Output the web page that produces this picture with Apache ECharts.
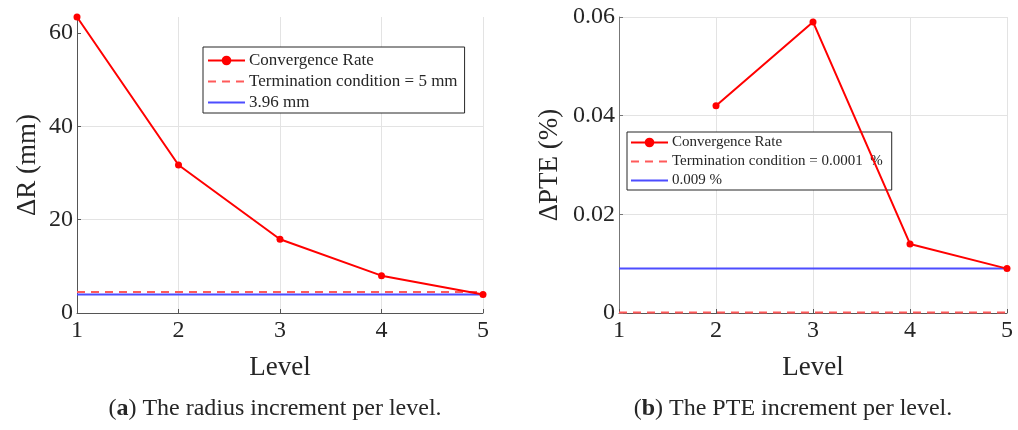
<!DOCTYPE html>
<html>
<head>
<meta charset="utf-8">
<script src="https://cdn.jsdelivr.net/npm/echarts@6/dist/echarts.min.js"></script>
<style>
  html, body { margin: 0; padding: 0; background: #fff; }
  #main { width: 1018px; height: 430px; }
</style>
</head>
<body>
<div id="main"></div>
<script>
// data
var levels = [1, 2, 3, 4, 5];
var radiusRate = [63.4, 31.7, 15.8, 8.0, 3.96];
var radiusTermination = 4.5;
var radiusFinal = 3.96;

var pteRate = [null, 0.042, 0.059, 0.014, 0.009];
var pteTermination = 0.0001;
var pteFinal = 0.009;

var radiusTicks = [0, 20, 40, 60];

var FONT = '"Liberation Serif", "Times New Roman", serif';
var TXT = '#262626';

function pairs(xs, ys) {
  var out = [];
  for (var i = 0; i < xs.length; i++) {
    if (ys[i] !== null) out.push([xs[i], ys[i]]);
  }
  return out;
}
function flat(v) {
  return [[levels[0], v], [levels[levels.length - 1], v]];
}
// legend entry with the line only, no marker
function lineOnly(name) {
  return { name: name, itemStyle: { opacity: 0 } };
}

function xAxis(idx) {
  return {
    type: 'value', gridIndex: idx, min: 1, max: 5, interval: 1,
    name: 'Level', nameLocation: 'middle', nameGap: 41,
    nameTextStyle: { fontFamily: FONT, fontSize: 27, color: TXT },
    axisLine: { lineStyle: { color: '#555', width: 1 } },
    axisTick: { inside: true, length: 4, lineStyle: { color: '#555' } },
    axisLabel: { fontFamily: FONT, fontSize: 24, color: TXT, margin: 6 },
    splitLine: { show: true, lineStyle: { color: '#e3e3e3' } }
  };
}

var chart = echarts.init(document.getElementById('main'));
chart.setOption({
  backgroundColor: '#fff',
  animation: false,
  grid: [
    { left: 77, right: 535, top: 17, bottom: 117 },
    { left: 619, right: 11, top: 17, bottom: 117 }
  ],
  xAxis: [xAxis(0), xAxis(1)],
  yAxis: [
    {
      type: 'value', gridIndex: 0, min: 0, max: 63.4, interval: 20,
      name: 'ΔR (mm)', nameLocation: 'middle', nameGap: 36,
      nameTextStyle: { fontFamily: FONT, fontSize: 27, color: TXT },
      axisLine: { show: true, lineStyle: { color: '#555' } },
      axisTick: { show: true, inside: true, length: 4, customValues: radiusTicks, lineStyle: { color: '#555' } },
      axisLabel: { fontFamily: FONT, fontSize: 24, color: TXT, margin: 4, customValues: radiusTicks },
      splitLine: { show: true, showMaxLine: false, lineStyle: { color: '#e3e3e3' } }
    },
    {
      type: 'value', gridIndex: 1, min: 0, max: 0.06, interval: 0.02,
      name: 'ΔPTE (%)', nameLocation: 'middle', nameGap: 56,
      nameTextStyle: { fontFamily: FONT, fontSize: 27, color: TXT },
      axisLine: { show: true, lineStyle: { color: '#777' } },
      axisTick: { show: true, inside: true, length: 4, lineStyle: { color: '#777' } },
      axisLabel: { fontFamily: FONT, fontSize: 24, color: TXT, margin: 4 },
      splitLine: { show: true, lineStyle: { color: '#e3e3e3' } }
    }
  ],
  legend: [
    {
      orient: 'vertical', left: 203, top: 47,
      data: ['Convergence Rate', lineOnly('Termination condition = 5 mm'), lineOnly('3.96 mm')],
      itemWidth: 37, itemHeight: 12, itemGap: 4,
      padding: [5, 7, 2, 4],
      backgroundColor: '#fff', borderColor: '#262626', borderWidth: 1,
      textStyle: { fontFamily: FONT, fontSize: 17, color: TXT, padding: [0, 0, 0, -1] }
    },
    {
      orient: 'vertical', left: 627, top: 132,
      data: ['Convergence Rate ', lineOnly('Termination condition = 0.0001  %'), lineOnly('0.009 %')],
      itemWidth: 37, itemHeight: 12, itemGap: 4,
      padding: [3, 9, 2, 3],
      backgroundColor: '#fff', borderColor: '#262626', borderWidth: 1,
      textStyle: { fontFamily: FONT, fontSize: 15, color: TXT, padding: [0, 0, 0, -1] }
    }
  ],
  series: [
    {
      name: 'Convergence Rate', type: 'line', xAxisIndex: 0, yAxisIndex: 0,
      data: pairs(levels, radiusRate), z: 5,
      symbol: 'circle', symbolSize: 7,
      lineStyle: { color: '#ff0000', width: 2 }, itemStyle: { color: '#ff0000' }
    },
    {
      name: 'Termination condition = 5 mm', type: 'line', xAxisIndex: 0, yAxisIndex: 0,
      data: flat(radiusTermination), symbol: 'none', z: 3,
      lineStyle: { color: '#ff5a5a', width: 2, type: [8, 6] }, itemStyle: { color: '#ff5a5a' }
    },
    {
      name: '3.96 mm', type: 'line', xAxisIndex: 0, yAxisIndex: 0,
      data: flat(radiusFinal), symbol: 'none', z: 4,
      lineStyle: { color: '#4d4dff', width: 2 }, itemStyle: { color: '#4d4dff' }
    },
    {
      name: 'Convergence Rate ', type: 'line', xAxisIndex: 1, yAxisIndex: 1,
      data: pairs(levels, pteRate), z: 5,
      symbol: 'circle', symbolSize: 7,
      lineStyle: { color: '#ff0000', width: 2 }, itemStyle: { color: '#ff0000' }
    },
    {
      name: 'Termination condition = 0.0001  %', type: 'line', xAxisIndex: 1, yAxisIndex: 1,
      data: flat(pteTermination), symbol: 'none', z: 3,
      lineStyle: { color: '#ff5a5a', width: 2, type: [8, 6] }, itemStyle: { color: '#ff5a5a' }
    },
    {
      name: '0.009 %', type: 'line', xAxisIndex: 1, yAxisIndex: 1,
      data: flat(pteFinal), symbol: 'none', z: 4,
      lineStyle: { color: '#4d4dff', width: 2 }, itemStyle: { color: '#4d4dff' }
    }
  ],
  graphic: [
    {
      type: 'text',
      style: {
        x: 275, y: 409, align: 'center', verticalAlign: 'middle',
        text: '({b|a}) The radius increment per level.',
        font: '24px ' + FONT, fill: TXT,
        rich: { b: { fontFamily: FONT, fontSize: 24, fontWeight: 'bold', fill: TXT } }
      }
    },
    {
      type: 'text',
      style: {
        x: 793, y: 409, align: 'center', verticalAlign: 'middle',
        text: '({b|b}) The PTE increment per level.',
        font: '24px ' + FONT, fill: TXT,
        rich: { b: { fontFamily: FONT, fontSize: 24, fontWeight: 'bold', fill: TXT } }
      }
    }
  ]
});
</script>
</body>
</html>
